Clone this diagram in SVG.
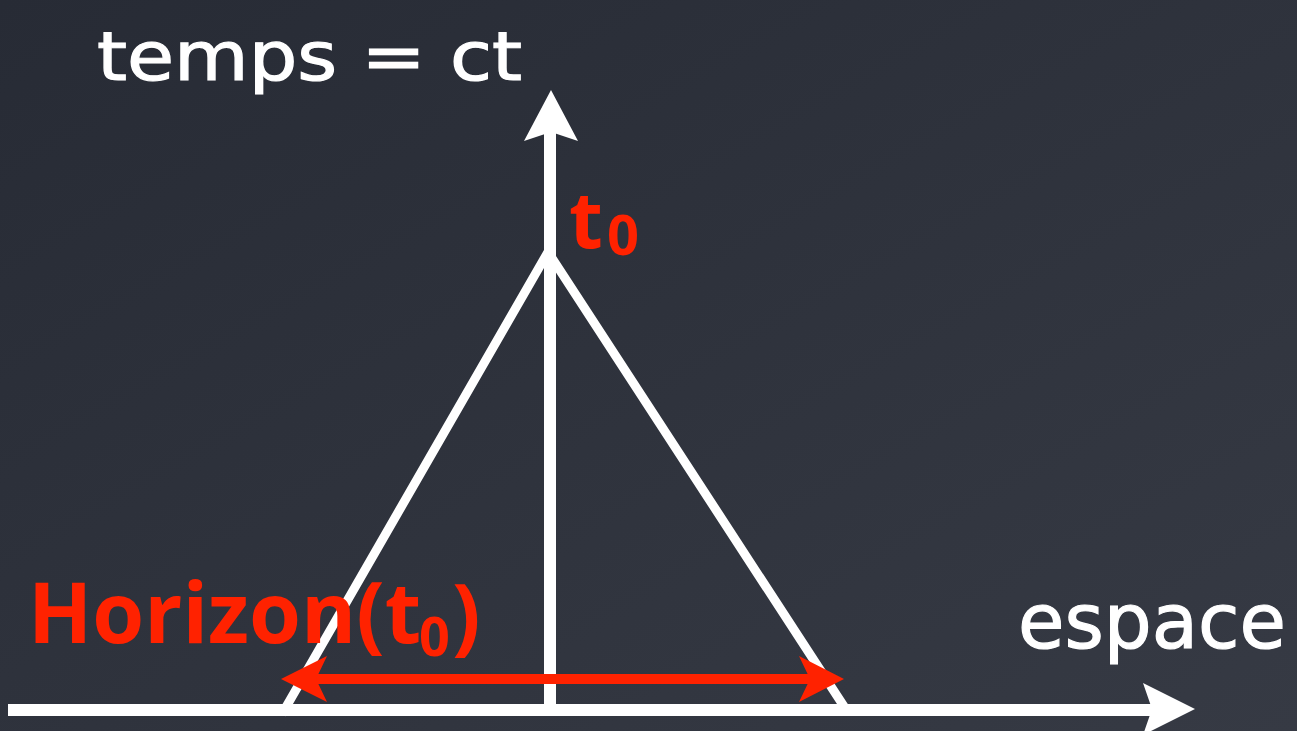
<svg xmlns="http://www.w3.org/2000/svg" width="1297" height="731" viewBox="0 0 1297 731">
  <defs>
    <linearGradient id="bg" x1="0" y1="0" x2="1" y2="1">
      <stop offset="0" stop-color="#272b35"/>
      <stop offset="0.6" stop-color="#30343e"/>
      <stop offset="1" stop-color="#363a44"/>
    </linearGradient>
    <style>
      .axis { stroke: #ffffff; stroke-width: 12; fill: none; }
      .cone { stroke: #ffffff; stroke-width: 9; fill: none; stroke-linejoin: miter; }
      .head { fill: #ffffff; }
      .white { fill: #ffffff; stroke: #ffffff; stroke-width: 1.2; font-family: "DejaVu Sans", "Open Sans", sans-serif; }
      .red { fill: #ff2200; font-family: "Open Sans", "DejaVu Sans", sans-serif; font-weight: bold; }
      .redline { stroke: #ff2200; stroke-width: 10; fill: none; }
      .redhead { fill: #ff2200; }
    </style>
  </defs>
  <rect width="1297" height="731" fill="url(#bg)"/>

  <g id="connectors">
    <g id="time-axis">
      <line class="axis" x1="550" y1="706" x2="550" y2="130"/>
      <path class="head" d="M551,90 L578,141 L551,132 L524,141 Z"/>
    </g>
    <g id="space-axis">
      <line class="axis" x1="8" y1="710" x2="1160" y2="710"/>
      <path class="head" d="M1195,709 L1143,683 L1152,709 L1143,735 Z"/>
    </g>
    <g id="light-cone">
      <polyline class="cone" points="282,714 548,252 845,708"/>
    </g>
    <g id="horizon-arrow">
      <line class="redline" x1="300" y1="679" x2="825" y2="679"/>
      <path class="redhead" d="M281,679 L327,656 L316,679 L327,702 Z"/>
      <path class="redhead" d="M844,679 L799,656 L810,679 L799,702 Z"/>
    </g>
  </g>

  <g id="label-temps">
    <text class="white" x="97" y="80" font-size="68" textLength="425" lengthAdjust="spacingAndGlyphs">temps = ct</text>
  </g>
  <g id="label-t0">
    <text class="red" x="569" y="248" font-size="78">t</text>
    <text class="red" x="607" y="255" font-size="56">0</text>
  </g>
  <g id="label-horizon">
    <text class="red" x="28" y="643" font-size="84">Horizon(t</text>
    <text class="red" x="419" y="656" font-size="54">0</text>
    <text class="red" x="452" y="645" font-size="84">)</text>
  </g>
  <g id="label-espace">
    <text class="white" x="1018" y="648" font-size="76" textLength="268" lengthAdjust="spacingAndGlyphs">espace</text>
  </g>
</svg>
